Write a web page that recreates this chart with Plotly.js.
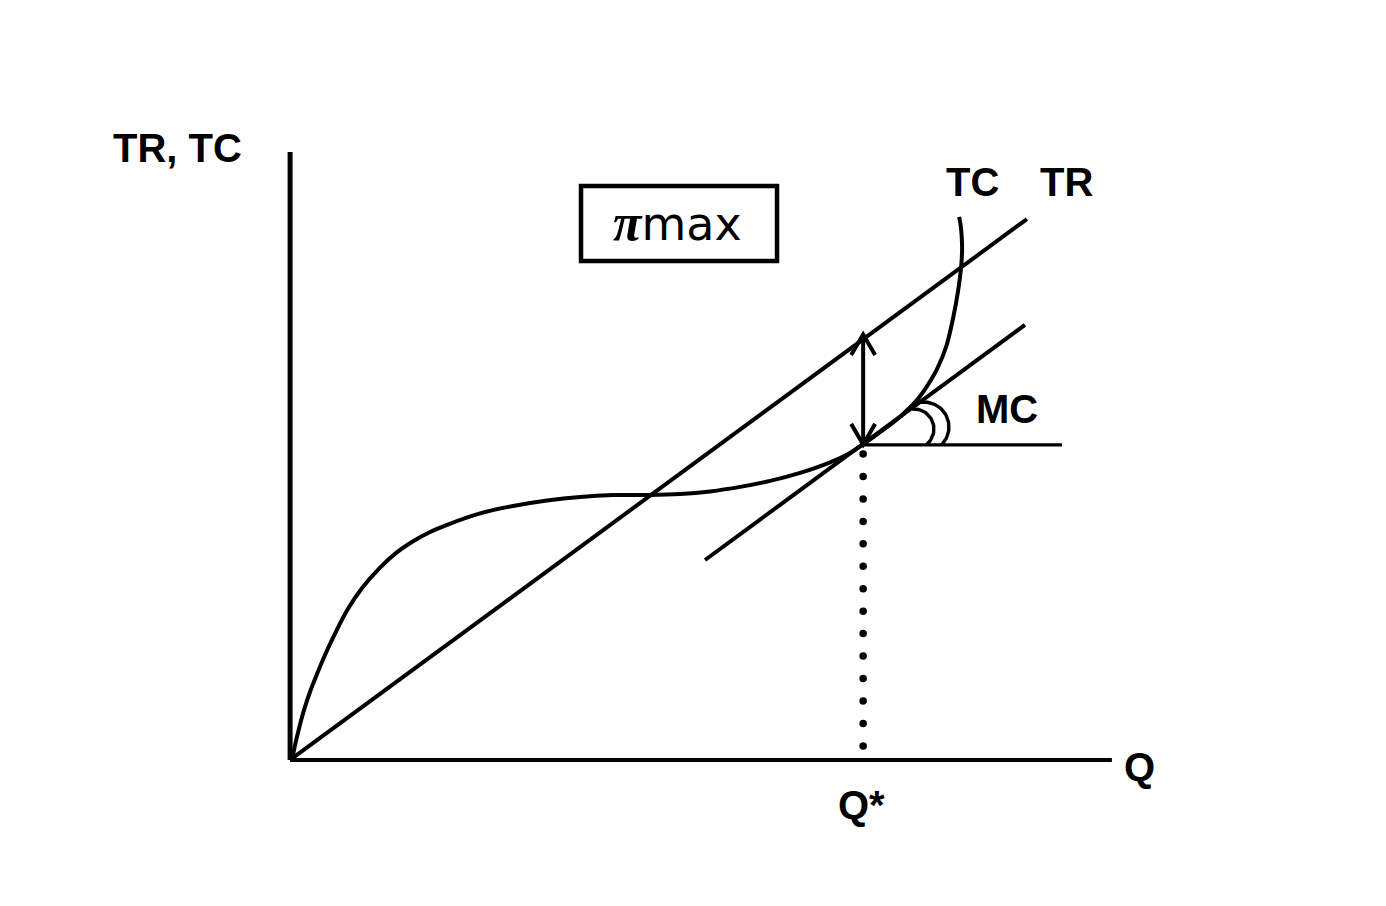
<!DOCTYPE html>
<html>
<head>
<meta charset="utf-8">
<script src="https://cdn.plot.ly/plotly-3.0.1.min.js"></script>
<style>html,body{margin:0;padding:0;background:#fff;}#chart{width:1386px;height:906px;}</style>
</head>
<body>
<div id="chart"></div>
<script>
// ---- data (units: Q on x, TR/TC on y) ----
const Q_STAR = 6.973;                 // profit-maximising output
const axisQmax = 10;                  // end of the Q axis
const axisYmax = 7.4;                 // top of the TR, TC axis

// Total revenue (straight line through the origin)
const trQ = [0, 8.966];
const trV = [0, 6.585];

// Total cost (cubic-shaped curve)
const tcQ = [0.024, 0.061, 0.110, 0.170, 0.243, 0.329, 0.426, 0.548, 0.694, 0.876, 1.083, 1.290, 1.497, 1.704,
             1.910, 2.312, 2.714, 3.127, 3.529, 3.930, 4.344, 4.746, 5.111, 5.476, 5.841, 6.206, 6.571, 6.814,
             6.973, 7.216, 7.423, 7.630, 7.751, 7.873, 7.983, 8.068, 8.129, 8.165, 8.177, 8.171, 8.159, 8.141];
const tcV = [0, 0.183, 0.390, 0.609, 0.830, 1.049, 1.280, 1.540, 1.822, 2.094, 2.330, 2.520, 2.662, 2.775,
             2.862, 3.001, 3.092, 3.159, 3.202, 3.224, 3.226, 3.238, 3.269, 3.324, 3.397, 3.494, 3.622, 3.737,
             3.841, 4.017, 4.179, 4.383, 4.550, 4.760, 5.030, 5.380, 5.715, 6.000, 6.209, 6.391, 6.513, 6.611];

// MC: tangent to TC at Q*, parallel to TR
const mcQ = [5.049, 8.942];
const mcV = [2.434, 5.295];

// horizontal reference line at the tangent point
const hzQ = [Q_STAR, 9.392];
const hzV = [3.835, 3.835];

// profit gap arrow (TR above TC at Q*)
const arrowTop = 5.18;
const arrowBottom = 3.841;

// dotted drop line from tangent point to Q axis
const dotY = [3.724, 3.451, 3.178, 2.904, 2.631, 2.358, 2.084, 1.811, 1.538, 1.264, 0.991, 0.717, 0.444, 0.170];

// ---- helpers for decoration ----
const BLACK = '#000';
function wing(tipY, dir) { // dir: +1 head points up, -1 head points down
  const dx = 0.146, dy = 0.25 * dir;
  return {x: [Q_STAR - dx, Q_STAR, Q_STAR + dx], y: [tipY - dy, tipY, tipY - dy]};
}
function arc(cx, cy, r, a0, a1) {
  const xs = [], ys = [];
  const n = 40;
  for (let i = 0; i <= n; i++) {
    const a = (a0 + (a1 - a0) * i / n) * Math.PI / 180;
    xs.push(cx + r * Math.cos(a));
    ys.push(cy + r * Math.sin(a));
  }
  return {x: xs, y: ys};
}
const up = wing(arrowTop, 1), down = wing(arrowBottom, -1);
const arcIn = arc(7.591, 4.029, 0.2434, 95, -50);
const arcOut = arc(7.713, 4.053, 0.304, 100, -46);

function line(x, y, w, extra) {
  return Object.assign({x: x, y: y, type: 'scatter', mode: 'lines', hoverinfo: 'skip',
    line: {color: BLACK, width: w}}, extra || {});
}

const traces = [
  line([0, axisQmax], [0, 0], 4),
  line([0, 0], [0, axisYmax], 5),
  line(trQ, trV, 4),
  line(tcQ, tcV, 4, {line: {color: BLACK, width: 4, shape: 'spline', smoothing: 1}}),
  line(mcQ, mcV, 4),
  line(hzQ, hzV, 3.2),
  line([Q_STAR, Q_STAR], [arrowBottom, arrowTop], 4),
  line(up.x, up.y, 4),
  line(down.x, down.y, 4),
  line(arcIn.x, arcIn.y, 3.4),
  line(arcOut.x, arcOut.y, 3.4),
  {x: dotY.map(() => Q_STAR), y: dotY, type: 'scatter', mode: 'markers', hoverinfo: 'skip',
   marker: {color: BLACK, size: 7.5}}
];

const labelFont = {family: 'Liberation Sans, Arial, sans-serif', size: 40, color: BLACK, weight: 'bold'};
function label(text, x, y, extra) {
  return Object.assign({text: text, x: x, y: y, xref: 'x', yref: 'y', showarrow: false,
    xanchor: 'center', yanchor: 'middle', font: labelFont}, extra || {});
}

const layout = {
  width: 1386, height: 906,
  margin: {l: 249, r: 233, t: 111, b: 105, pad: 0},
  paper_bgcolor: '#fff', plot_bgcolor: '#fff',
  showlegend: false,
  xaxis: {range: [-0.5, 10.5], visible: false, fixedrange: true},
  yaxis: {range: [-0.5, 7.9], visible: false, fixedrange: true},
  shapes: [
    {type: 'rect', xref: 'x', yref: 'y', x0: 3.540, x1: 5.925, y0: 6.073, y1: 6.986,
     line: {color: BLACK, width: 4.5}, fillcolor: 'rgba(0,0,0,0)'}
  ],
  annotations: [
    label('TR, TC', -0.0796, 0.9464, {xref: 'paper', yref: 'paper'}),
    label('TC', 8.309, 7.035),
    label('TR', 9.453, 7.035),
    label('MC', 8.723, 4.272),
    label('Q', 10.341, -0.085),
    label('Q*', 0.678, -0.0058, {xref: 'paper', yref: 'paper'}),
    {text: '<span style="font-family:Liberation Serif, Times New Roman, serif;font-size:52px"><b><i>π</i></b></span>max',
     x: 4.72, y: 6.548, xref: 'x', yref: 'y', showarrow: false, xanchor: 'center', yanchor: 'middle',
     font: {family: 'DejaVu Sans, sans-serif', size: 46, color: BLACK}}
  ]
};

Plotly.newPlot('chart', traces, layout, {staticPlot: true, displayModeBar: false});
</script>
</body>
</html>
